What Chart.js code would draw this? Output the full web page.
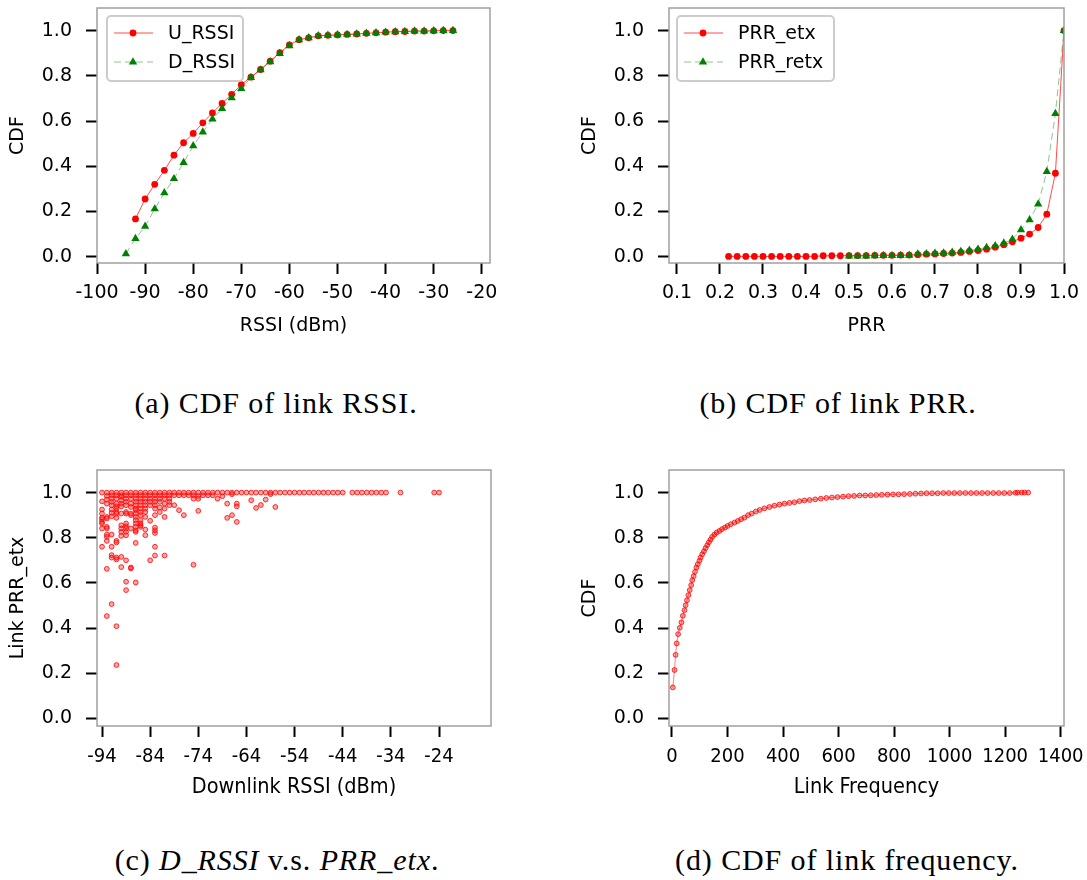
<!DOCTYPE html>
<html>
<head>
<meta charset="utf-8">
<script src="https://cdn.jsdelivr.net/npm/chart.js@4.4.1/dist/chart.umd.min.js"></script>
<style>
  body { margin: 0; background: #fff; }
  #fig { position: relative; width: 1087px; height: 880px; }
  canvas { position: absolute; }
  .cap {
    position: absolute; transform: translate(-50%, -50%);
    font-family: "Liberation Serif", serif; font-size: 30px; letter-spacing: 0.9px;
    white-space: nowrap; color: #000;
  }
</style>
</head>
<body>
<div id="fig">
  <canvas id="rssi" width="500" height="350" style="left:0;top:0"></canvas>
  <canvas id="prr" width="515" height="350" style="left:572px;top:0"></canvas>
  <canvas id="scatter" width="500" height="350" style="left:0;top:460px"></canvas>
  <canvas id="freq" width="515" height="350" style="left:572px;top:460px"></canvas>
  <div class="cap" style="left:276px;top:403px">(a) CDF of link RSSI.</div>
  <div class="cap" style="left:838px;top:403px">(b) CDF of link PRR.</div>
  <div class="cap" style="left:277px;top:860px">(c) <i>D_RSSI</i> v.s. <i>PRR_etx</i>.</div>
  <div class="cap" style="left:847px;top:860px">(d) CDF of link frequency.</div>
</div>
<script>
// (a) CDF of link RSSI
const uRssiX = [-92,-90,-88,-86,-84,-82,-80,-78,-76,-74,-72,-70,-68,-66,-64,-62,-60,-58,-56,-54,-52,-50,-48,-46,-44,-42,-40,-38,-36,-34,-32,-30,-28,-26];
const uRssiCdf = [0.167,0.255,0.32,0.382,0.449,0.504,0.545,0.592,0.636,0.678,0.718,0.761,0.794,0.828,0.865,0.902,0.937,0.960,0.968,0.977,0.979,0.981,0.983,0.985,0.988,0.990,0.993,0.995,0.996,0.998,0.998,0.999,1.0,1.0];
const dRssiX = [-94,-92,-90,-88,-86,-84,-82,-80,-78,-76,-74,-72,-70,-68,-66,-64,-62,-60,-58,-56,-54,-52,-50,-48,-46,-44,-42,-40,-38,-36,-34,-32,-30,-28,-26];
const dRssiCdf = [0.013,0.08,0.134,0.211,0.282,0.345,0.416,0.49,0.551,0.609,0.655,0.702,0.743,0.792,0.826,0.862,0.898,0.933,0.959,0.968,0.977,0.979,0.981,0.983,0.985,0.988,0.990,0.993,0.995,0.996,0.998,0.998,0.999,1.0,1.0];
const rssiTicks = [-100,-90,-80,-70,-60,-50,-40,-30,-20];

// (b) CDF of link PRR
const etxX = [0.22,0.24,0.26,0.28,0.30,0.32,0.34,0.36,0.38,0.40,0.42,0.44,0.46,0.48,0.50,0.52,0.54,0.56,0.58,0.60,0.62,0.64,0.66,0.68,0.70,0.72,0.74,0.76,0.78,0.80,0.82,0.84,0.86,0.88,0.90,0.92,0.94,0.96,0.98,1.0];
const etxCdf = [0.001,0.001,0.001,0.001,0.001,0.001,0.001,0.001,0.001,0.001,0.001,0.004,0.004,0.004,0.005,0.005,0.005,0.006,0.006,0.006,0.007,0.007,0.009,0.011,0.012,0.014,0.016,0.019,0.023,0.027,0.033,0.042,0.053,0.066,0.082,0.10,0.129,0.188,0.369,1.0];
const retxX = [0.50,0.52,0.54,0.56,0.58,0.60,0.62,0.64,0.66,0.68,0.70,0.72,0.74,0.76,0.78,0.80,0.82,0.84,0.86,0.88,0.90,0.92,0.94,0.96,0.98,1.0];
const retxCdf = [0.002,0.002,0.002,0.004,0.005,0.005,0.005,0.006,0.012,0.013,0.015,0.016,0.019,0.023,0.028,0.033,0.040,0.048,0.060,0.077,0.119,0.163,0.233,0.376,0.633,1.0];
const prrTicks = [0.1,0.2,0.3,0.4,0.5,0.6,0.7,0.8,0.9,1.0];

// (c) downlink RSSI vs PRR_etx, one list of PRR values per RSSI level
const scatterRssi = [-94,-93,-92,-91,-90,-89,-88,-87,-86,-85,-84,-83,-82,-81,-80,-79,-78,-77,-76,-75,-74,-73,-72,-71,-70,-69,-68,-67,-66,-65,-64,-63,-62,-61,-60,-59,-58,-57,-56,-55,-54,-53,-52,-51,-50,-49,-48,-47,-46,-45,-44,-42,-41,-40,-39,-38,-37,-36,-35,-32,-25,-24];
const scatterPrr = [
  [1.0,0.961,0.925,0.907,0.889,0.882,0.870,0.863,0.841,0.760],
  [1.0,0.985,0.969,0.951,0.892,0.885,0.848,0.841,0.814,0.804,0.786,0.662,0.453],
  [1.0,0.988,0.973,0.959,0.944,0.925,0.910,0.895,0.814,0.760,0.723,0.712,0.506],
  [1.0,0.988,0.973,0.951,0.939,0.929,0.914,0.907,0.888,0.786,0.779,0.712,0.704,0.408,0.236],
  [1.0,0.988,0.981,0.966,0.951,0.939,0.907,0.855,0.841,0.826,0.808,0.715,0.670],
  [1.0,0.988,0.973,0.959,0.944,0.914,0.907,0.863,0.851,0.841,0.826,0.811,0.700,0.605,0.568],
  [1.0,0.988,0.973,0.951,0.936,0.907,0.900,0.841,0.668,0.664],
  [1.0,0.988,0.973,0.959,0.944,0.929,0.922,0.907,0.892,0.878,0.863,0.848,0.833,0.826,0.777,0.602],
  [1.0,0.988,0.973,0.959,0.944,0.929,0.914,0.900,0.878,0.863,0.855,0.848],
  [1.0,0.988,0.973,0.959,0.944,0.929,0.914,0.892,0.836,0.811],
  [1.0,0.988,0.973,0.959,0.944,0.875,0.700],
  [1.0,0.988,0.973,0.959,0.944,0.929,0.900,0.845,0.833,0.821,0.760,0.721],
  [1.0,0.988,0.973,0.959,0.934,0.914],
  [1.0,0.988,0.973,0.951,0.929,0.892,0.721],
  [1.0,0.988,0.973,0.959,0.944],
  [1.0,0.988,0.944],
  [1.0,0.988,0.922],
  [1.0,0.988,0.900],
  [1.0,0.988],
  [1.0,0.988,0.973,0.680],
  [1.0,0.985,0.973,0.919],
  [1.0,0.988],
  [1.0,0.988],
  [1.0,0.988],
  [1.0,0.973],
  [1.0,0.984],
  [1.0,0.951,0.888],
  [1.0,0.993,0.900],
  [1.0,0.951,0.939,0.870],
  [1.0],
  [1.0],
  [1.0,0.966],
  [1.0,0.932],
  [1.0,0.945],
  [1.0,0.969],
  [1.0,0.993],
  [1.0,0.936],
  [1.0],[1.0],[1.0],[1.0],[1.0],[1.0],[1.0],[1.0],[1.0],[1.0],[1.0],[1.0],[1.0],[1.0],
  [1.0],[1.0],[1.0],[1.0],[1.0],[1.0],[1.0],[1.0],[1.0],[1.0],[1.0]
];
const scatterTicks = [-94,-84,-74,-64,-54,-44,-34,-24];

// (d) CDF of link frequency
const freqX = [3,9,13,17,22,28,34,39,45,49,54,59,64,69,73,78,83,88,93,99,103,109,115,121,127,133,139,145,153,161,171,180,191,
  200,212,225,237,249,261,274,287,302,316,333,351,369,387,405,423,441,459,477,496,516,536,556,576,596,616,636,656,676,696,
  716,736,756,776,796,816,836,857,877,897,917,937,957,977,997,1017,1037,1057,1077,1097,1117,1137,1157,1177,1197,1217,1237,1245,1260,1270,1283];
const freqCdf = [0.137,0.214,0.281,0.332,0.373,0.401,0.425,0.454,0.479,0.501,0.523,0.546,0.568,0.59,0.612,0.63,0.649,0.668,0.683,0.698,0.712,0.727,0.74,0.754,0.767,0.78,0.792,0.804,0.814,0.823,0.83,0.838,0.845,
  0.852,0.86,0.867,0.874,0.882,0.889,0.9,0.907,0.916,0.923,0.93,0.936,0.942,0.947,0.951,0.954,0.957,0.962,0.965,0.967,0.970,0.973,0.976,0.978,0.980,0.982,0.984,0.985,0.987,0.987,
  0.988,0.989,0.990,0.991,0.992,0.992,0.993,0.994,0.995,0.996,0.997,0.997,0.997,0.998,0.998,0.998,0.998,0.998,0.998,0.998,0.998,0.998,0.998,0.998,0.998,0.998,0.999,1.0,1.0,1.0,1.0];
const freqTicks = [0,200,400,600,800,1000,1200,1400];

const cdfTicks = [0,0.2,0.4,0.6,0.8,1.0];

const SANS = "'DejaVu Sans', sans-serif";
const NARROW = "'DejaVu Sans Condensed', 'DejaVu Sans', sans-serif";

const pairs = (xs, ys) => xs.map((x, i) => ({x: x, y: ys[i]}));

// grey frame round the plot area
const boxFrame = {
  id: 'boxFrame',
  afterDatasetsDraw(chart) {
    const a = chart.chartArea, ctx = chart.ctx;
    ctx.save();
    ctx.strokeStyle = '#a0a0a0';
    ctx.lineWidth = 1.5;
    ctx.strokeRect(a.left, a.top, a.right - a.left, a.bottom - a.top);
    ctx.restore();
  }
};

function marker(ctx, style, r, x, y) {
  ctx.beginPath();
  if (style === 'triangle') {
    ctx.moveTo(x, y - r);
    ctx.lineTo(x + r * 0.866, y + r / 2);
    ctx.lineTo(x - r * 0.866, y + r / 2);
    ctx.closePath();
  } else {
    ctx.arc(x, y, r, 0, Math.PI * 2);
  }
  ctx.fill();
}

// matplotlib-like legend box
const boxLegend = {
  id: 'boxLegend',
  afterDraw(chart, args, opts) {
    if (!opts.show) return;
    const ctx = chart.ctx, a = chart.chartArea;
    const x0 = a.left + opts.dx, y0 = a.top + 8;
    ctx.save();
    ctx.beginPath();
    ctx.roundRect(x0, y0, opts.w, 65, 4);
    ctx.fillStyle = 'rgba(255,255,255,0.9)';
    ctx.fill();
    ctx.strokeStyle = '#cccccc';
    ctx.lineWidth = 2;
    ctx.stroke();
    chart.data.datasets.forEach((ds, i) => {
      const y = y0 + 17 + i * 29;
      ctx.strokeStyle = ds.borderColor;
      ctx.lineWidth = ds.borderWidth;
      ctx.setLineDash(ds.borderDash || []);
      ctx.beginPath();
      ctx.moveTo(x0 + 7, y);
      ctx.lineTo(x0 + 46, y);
      ctx.stroke();
      ctx.setLineDash([]);
      ctx.fillStyle = ds.pointBackgroundColor;
      marker(ctx, ds.pointStyle, ds.pointRadius, x0 + 26, y);
      ctx.fillStyle = '#000';
      ctx.font = '19px ' + SANS;
      ctx.textBaseline = 'middle';
      ctx.fillText(ds.label, x0 + 61, y + 1);
    });
    ctx.restore();
  }
};

function makeScales(o) {
  return {
    x: {
      type: 'linear', min: o.xMin, max: o.xMax,
      afterBuildTicks: s => { s.ticks = o.xTicks.map(v => ({value: v})); },
      afterFit: s => { s.height = o.xH; s.paddingLeft = 0; s.paddingRight = 0; },
      ticks: {
        callback: o.xFmt, color: '#000', padding: o.xPad, maxRotation: 0, autoSkip: false,
        font: {family: o.xFont, size: o.xSize}
      },
      grid: {drawOnChartArea: false, tickLength: 11, tickWidth: 2, tickColor: '#000'},
      border: {display: false},
      title: {
        display: true, text: o.xTitle, color: '#000',
        font: {family: o.xFont, size: o.xTitleSize}, padding: {top: 0, bottom: o.xTitlePad}
      }
    },
    y: {
      type: 'linear', min: o.yMin, max: 1.1,
      afterBuildTicks: s => { s.ticks = cdfTicks.map(v => ({value: v})); },
      afterFit: s => { s.width = 97; s.paddingTop = 0; s.paddingBottom = 0; },
      ticks: {callback: v => v.toFixed(1), color: '#000', padding: 14, font: {family: SANS, size: 19}},
      grid: {drawOnChartArea: false, tickLength: 11, tickWidth: 2, tickColor: '#000'},
      border: {display: false},
      title: {
        display: true, text: o.yTitle, color: '#000',
        font: {family: SANS, size: 19}, padding: {top: 7, bottom: 0}
      }
    }
  };
}

function makeChart(id, datasets, scaleOpts, pad, legend) {
  return new Chart(document.getElementById(id), {
    type: 'scatter',
    data: {datasets: datasets},
    options: {
      responsive: false,
      animation: false,
      events: [],
      layout: {padding: pad},
      scales: makeScales(scaleOpts),
      plugins: {
        legend: {display: false},
        tooltip: {enabled: false},
        boxLegend: legend || {show: false}
      }
    },
    plugins: [boxFrame, boxLegend]
  });
}

const redLine = (label, data) => ({
  label: label, data: data, showLine: true, order: 1,
  borderColor: 'rgba(255,0,0,0.7)', borderWidth: 1,
  pointStyle: 'circle', pointRadius: 3.4, pointBackgroundColor: '#ff0000', pointBorderWidth: 0
});
const greenLine = (label, data) => ({
  label: label, data: data, showLine: true, order: 0,
  borderColor: 'rgba(0,128,0,0.45)', borderWidth: 1, borderDash: [7, 4],
  pointStyle: 'triangle', pointRadius: 4.8, pointBackgroundColor: '#008000', pointBorderWidth: 0
});

makeChart('rssi',
  [redLine('U_RSSI', pairs(uRssiX, uRssiCdf)), greenLine('D_RSSI', pairs(dRssiX, dRssiCdf))],
  {xMin: -100, xMax: -18.3, xTicks: rssiTicks, xFmt: v => String(v), xFont: SANS, xSize: 19, xTitleSize: 19,
   xPad: 8, xH: 87, xTitle: 'RSSI (dBm)', xTitlePad: 13, yMin: -0.028, yTitle: 'CDF'},
  {left: 0, top: 8, right: 10, bottom: 0},
  {show: true, dx: 10, w: 136});

makeChart('prr',
  [redLine('PRR_etx', pairs(etxX, etxCdf)), greenLine('PRR_retx', pairs(retxX, retxCdf))],
  {xMin: 0.0814, xMax: 1.0, xTicks: prrTicks, xFmt: v => v.toFixed(1), xFont: SANS, xSize: 19, xTitleSize: 19,
   xPad: 8, xH: 87, xTitle: 'PRR', xTitlePad: 13, yMin: -0.028, yTitle: 'CDF'},
  {left: 0, top: 8, right: 23, bottom: 0},
  {show: true, dx: 8, w: 157});

const scatterPoints = [];
scatterRssi.forEach((r, i) => scatterPrr[i].forEach(p => scatterPoints.push({x: r, y: p})));

const smallRing = {
  pointStyle: 'circle', pointRadius: 2.4,
  pointBackgroundColor: 'rgba(255,0,0,0.35)', pointBorderColor: 'rgba(255,0,0,0.8)', pointBorderWidth: 1
};

makeChart('scatter',
  [Object.assign({label: 'D_RSSI vs PRR_etx', data: scatterPoints, showLine: false}, smallRing)],
  {xMin: -95.04, xMax: -13.2, xTicks: scatterTicks, xFmt: v => String(v), xFont: NARROW, xSize: 20, xTitleSize: 21.5,
   xPad: 8, xH: 84, xTitle: 'Downlink RSSI (dBm)', xTitlePad: 10, yMin: -0.034, yTitle: 'Link PRR_etx'},
  {left: 0, top: 10, right: 9, bottom: 0});

makeChart('freq',
  [Object.assign({label: 'Link frequency', data: pairs(freqX, freqCdf), showLine: true,
    borderColor: 'rgba(255,0,0,0.5)', borderWidth: 1}, smallRing)],
  {xMin: -10.8, xMax: 1412, xTicks: freqTicks, xFmt: v => String(v), xFont: NARROW, xSize: 20, xTitleSize: 21.5,
   xPad: 8, xH: 84, xTitle: 'Link Frequency', xTitlePad: 10, yMin: -0.034, yTitle: 'CDF'},
  {left: 0, top: 10, right: 23, bottom: 0});
</script>
</body>
</html>
